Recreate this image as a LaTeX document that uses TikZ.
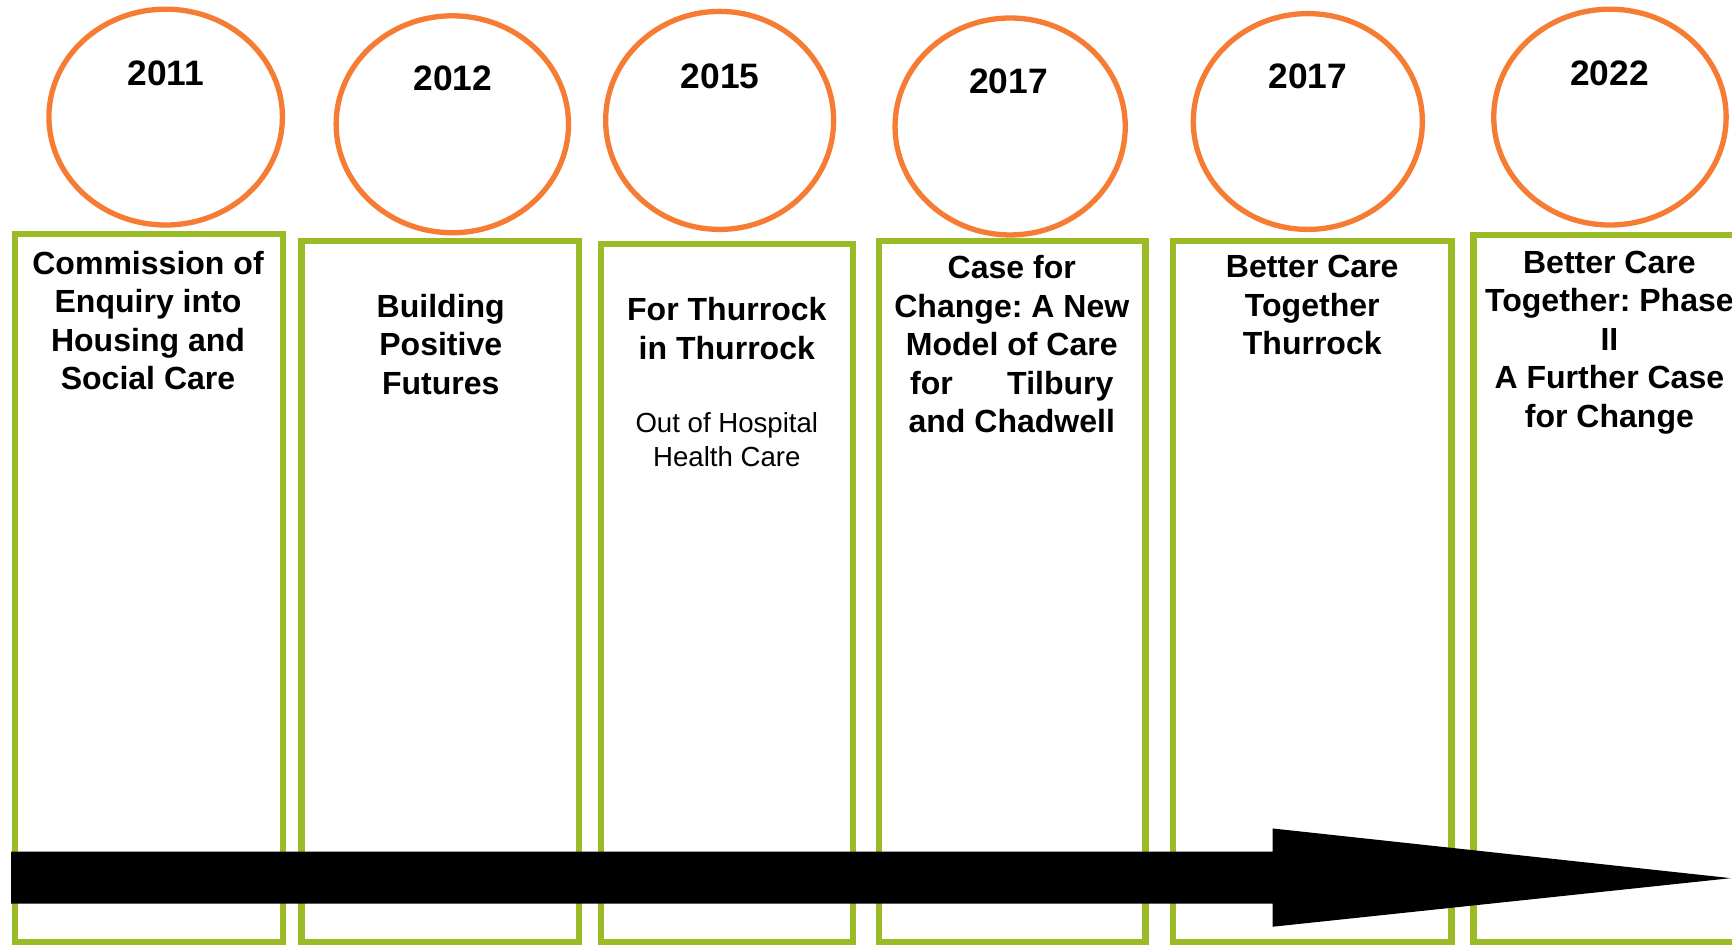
\documentclass[tikz,border=0pt]{standalone}
\usepackage{fontspec}
\setmainfont{Liberation Sans}
\frenchspacing
\definecolor{orng}{RGB}{246,124,52}
\definecolor{grn}{RGB}{155,187,38}
\begin{document}
\begin{tikzpicture}[x=0.5pt,y=-0.5pt,
  yearcirc/.style={draw=orng, line width=2.4pt},
  evbox/.style={draw=grn, line width=2.9pt},
  yeartxt/.style={font=\fontsize{16}{19}\selectfont\bfseries, inner sep=0},
  boxtxt/.style={font=\fontsize{14.5}{17.4}\selectfont\bfseries, align=center, anchor=north, inner sep=0},
  subtxt/.style={font=\fontsize{12.5}{15.5}\selectfont, align=center, anchor=north, inner sep=0},
]
\useasboundingbox (0,0) rectangle (1568,856);
\clip (0,0) rectangle (1568,856);
\fill[white] (0,0) rectangle (1568,856);

% boxes
\draw[evbox] (13.5,212) rectangle (256,853);
\draw[evbox] (273,218) rectangle (524,853);
\draw[evbox] (544,221) rectangle (772,853);
\draw[evbox] (796,218) rectangle (1037,853);
\draw[evbox] (1062,218) rectangle (1314,853);
\draw[evbox] (1334,213) rectangle (1600,853);

% circles
\draw[yearcirc] (150,106) ellipse [x radius=105.7, y radius=97.7];
\draw[yearcirc] (409.5,112.5) ellipse [x radius=105.2, y radius=98.2];
\draw[yearcirc] (651.5,109) ellipse [x radius=103.2, y radius=98.7];
\draw[yearcirc] (914.5,114.5) ellipse [x radius=104.2, y radius=98.2];
\draw[yearcirc] (1184,110) ellipse [x radius=103.7, y radius=97.7];
\draw[yearcirc] (1457.5,106) ellipse [x radius=105.2, y radius=97.7];

% years
\node[yeartxt] (y1) at (150,66) {2011};
\node[yeartxt] (y2) at (410,71) {2012};
\node[yeartxt] (y3) at (652,69) {2015};
\node[yeartxt] (y4) at (913,74) {2017};
\node[yeartxt] (y5) at (1184,69) {2017};
\node[yeartxt] (y6) at (1457,66) {2022};

% box texts
\node[boxtxt] (t1) at (134,227) {Commission of\\Enquiry into\\Housing and\\Social Care};
\node[boxtxt] (t2) at (399,266) {Building\\Positive\\Futures};
\node[boxtxt] (t3) at (658,269) {For Thurrock\\in Thurrock};
\node[subtxt] (s3) at (658,373) {Out of Hospital\\Health Care};
\node[boxtxt] (t4) at (916,231) {Case for\\Change: A New\\Model of Care\\\makebox[92pt]{for\hfill Tilbury}\\and Chadwell};
\node[boxtxt] (t5) at (1188,231) {Better Care\\Together\\Thurrock};
\node[boxtxt] (t6) at (1457,227) {Better Care\\Together: Phase\\II\\A Further Case\\for Change};

% timeline arrow
\fill[black] (10,771) -- (1152,771) -- (1152,750) -- (1567,795) -- (1152,839) -- (1152,818) -- (10,818) -- cycle;
\end{tikzpicture}
\end{document}
